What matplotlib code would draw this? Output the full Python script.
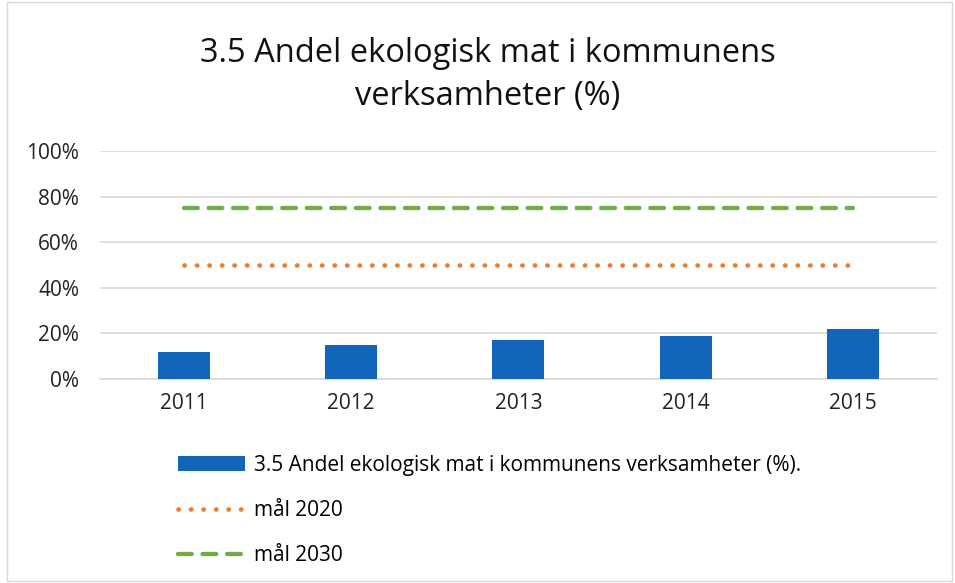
import matplotlib
import matplotlib.pyplot as plt
from matplotlib.patches import Rectangle
from matplotlib.ticker import PercentFormatter

matplotlib.use("Agg")

YEARS = ["2011", "2012", "2013", "2014", "2015"]
SHARE = [12, 15, 17, 19, 22]
GOAL_2020 = [50, 50, 50, 50, 50]
GOAL_2030 = [75, 75, 75, 75, 75]

TITLE = "3.5 Andel ekologisk mat i kommunens\nverksamheter (%)"
BAR_LABEL = "3.5 Andel ekologisk mat i kommunens verksamheter (%)."

plt.rcParams["font.family"] = ["Open Sans", "DejaVu Sans"]

fig = plt.figure(figsize=(9.55, 5.83), dpi=100)
ax = fig.add_axes([0.1047, 0.350, 0.8763, 0.391])

x = list(range(len(YEARS)))
bars = ax.bar(x, SHARE, width=0.31, color="#1266BA", zorder=3, label=BAR_LABEL)
(line_2020,) = ax.plot(x, GOAL_2020, color="#ED7D31", lw=3.4,
                       linestyle=(0, (0.05, 2.6)), dash_capstyle="round",
                       zorder=4, label="mål 2020")
(line_2030,) = ax.plot(x, GOAL_2030, color="#70AD47", lw=3.1,
                       linestyle=(0, (3.2, 2.5)), dash_capstyle="round",
                       zorder=4, label="mål 2030")

ax.set_xlim(-0.5, len(YEARS) - 0.5)
ax.set_ylim(0, 100)
ax.set_yticks([0, 20, 40, 60, 80, 100])
ax.yaxis.set_major_formatter(PercentFormatter(decimals=0))
ax.set_xticks(x)
ax.set_xticklabels(YEARS)
ax.grid(axis="y", color="#D9D9D9", lw=1.2, zorder=0)
for side in ["top", "right", "left"]:
    ax.spines[side].set_visible(False)
ax.spines["bottom"].set_color("#D9D9D9")
ax.spines["bottom"].set_linewidth(1.2)
ax.tick_params(length=0, labelsize=15, colors="#222222")
ax.tick_params(axis="x", pad=10)
ax.tick_params(axis="y", pad=15)

fig.text(0.511, 0.871, TITLE, ha="center", va="center", fontsize=23.5,
         linespacing=1.38, color="#111111")

fig.legend(handles=[bars, line_2020, line_2030], loc="upper left",
           bbox_to_anchor=(0.178, 0.234), frameon=False,
           fontsize=15, handlelength=3.2, labelspacing=1.15,
           handletextpad=0.45, borderaxespad=0)

fig.patches.append(Rectangle((0.007, 0.003), 0.99, 0.994, transform=fig.transFigure,
                             fill=False, edgecolor="#D9D9D9", lw=1.0))

fig.savefig("out.png", dpi=100)
